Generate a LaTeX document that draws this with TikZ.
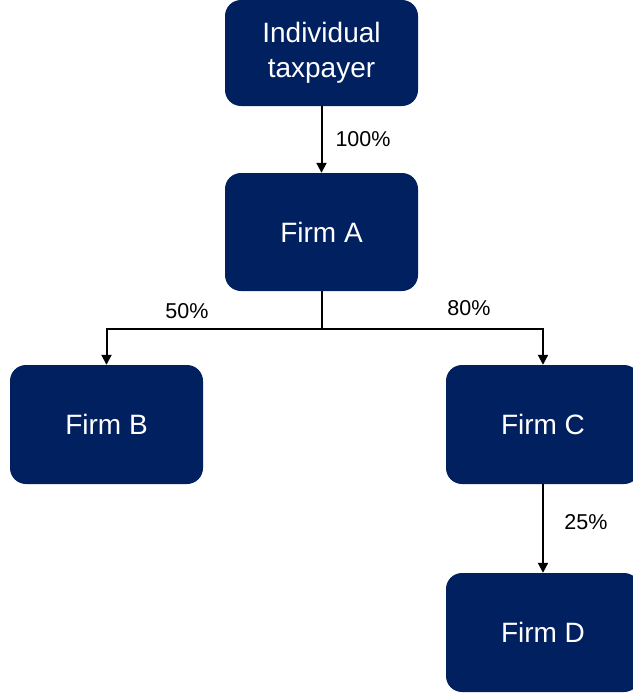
\documentclass[tikz,border=0pt]{standalone}
\usepackage{fontspec}
\setmainfont{Liberation Sans}
\usetikzlibrary{arrows.meta}
\definecolor{navy}{HTML}{002060}
\begin{document}
\begin{tikzpicture}[x=1pt,y=-1pt,
  firm/.style={fill=navy, rounded corners=16pt, text=white, font=\fontsize{28}{35}\selectfont, align=center},
  link/.style={line width=2pt, -{Triangle[length=10pt,width=10pt]}},
  pct/.style={font=\fontsize{21.5}{24}\selectfont, text=black}]
\useasboundingbox (0,0) rectangle (632,696);
\fill[white] (0,0) rectangle (632,696);
\node[firm, minimum width=193pt, minimum height=106pt] (tp) at (321.5,53) {Individual\\taxpayer};
\node[firm, minimum width=193pt, minimum height=118pt] (A) at (321.5,232) {Firm A};
\node[firm, minimum width=193pt, minimum height=119pt] (B) at (106.5,424.5) {Firm B};
\node[firm, minimum width=194pt, minimum height=119pt] (C) at (543,424.5) {Firm C};
\node[firm, minimum width=194pt, minimum height=119pt] (D) at (543,632.5) {Firm D};
\coordinate (j) at (321.5,329);
\draw[link] (tp) -- (A);
\draw[line width=2pt] (A.south) -- (j);
\draw[link] (j) -| (B.north);
\draw[link] (j) -| (C.north);
\draw[link] (C) -- (D);
\node[pct] (p100) at (363,139) {100\%};
\node[pct] (p50) at (187,311) {50\%};
\node[pct] (p80) at (469,308) {80\%};
\node[pct] (p25) at (586,522) {25\%};
\end{tikzpicture}
\end{document}
